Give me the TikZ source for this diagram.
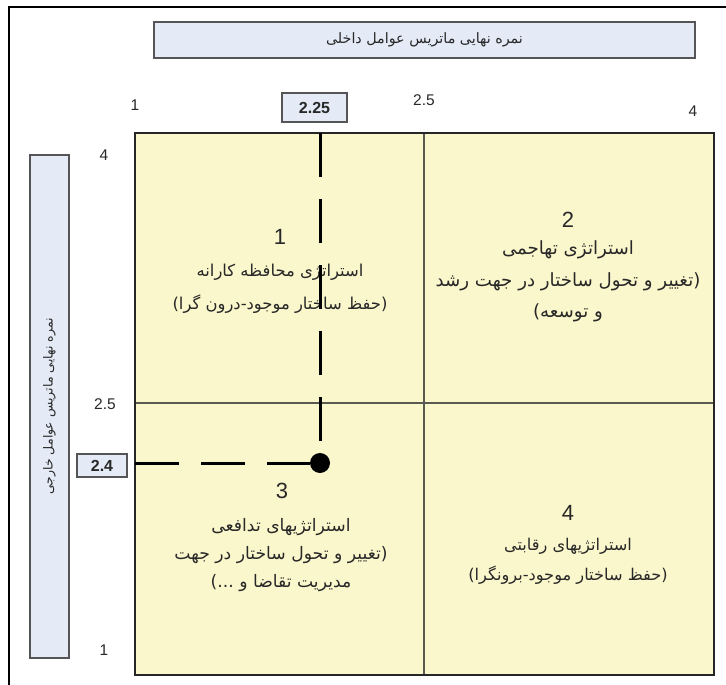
\documentclass[tikz,border=0pt]{standalone}
\usepackage{fontspec}
\setmainfont{Liberation Sans}
\newfontfamily\farsi[Script=Arabic]{DejaVu Sans}
\TeXXeTstate=1
\newcommand{\fa}[1]{{\farsi\beginR #1\endR}}
\definecolor{quadyellow}{RGB}{251,247,204}
\definecolor{boxblue}{RGB}{228,235,246}
\definecolor{boxgray}{RGB}{85,85,85}
\definecolor{gridgray}{RGB}{90,90,80}
\definecolor{textgray}{RGB}{40,40,40}

\begin{document}
\begin{tikzpicture}[x=1pt, y=-1pt, every node/.style={inner sep=0pt, outer sep=0pt, text=textgray},
	quad/.style={rectangle, draw=gridgray, line width=1.2pt, fill=quadyellow, minimum width=#1},
	labelbox/.style={rectangle, draw=boxgray, line width=1.5pt, fill=boxblue},
	scorebox/.style={labelbox, font=\fontsize{16}{16}\selectfont\bfseries},
	axislabel/.style={font=\fontsize{15.5}{16}\selectfont},
	quadnum/.style={font=\fontsize{22}{22}\selectfont},
	quadtext/.style 2 args={align=center, font=\fontsize{#1}{#2}\selectfont},
	scoreline/.style={line width=3pt, dash pattern=on 44pt off 22pt}]
	\fill[white] (0,0) rectangle (726,685);
	\useasboundingbox (0,0) rectangle (726,685);
	\draw[line width=2.5pt] (9,700) -- (9,7) -- (740,7);
	
	\node[labelbox, minimum width=541pt, minimum height=36pt, font=\fontsize{14.3}{14}\selectfont] (inner) at (424.5,40) {\fa{نمره  نهایی ماتریس عوامل داخلی}};
	\node[labelbox, rotate=90, minimum width=503pt, minimum height=39pt, font=\fontsize{12.5}{12}\selectfont] (outer) at (49.5,406.5) {\fa{نمره نهایی ماتریس عوامل خارجی}};
	
	\node[quad=289pt, minimum height=270pt] (q1) at (279.5,268) {};
	\node[quad=290pt, minimum height=270pt] (q2) at (569,268) {};
	\node[quad=289pt, minimum height=272pt] (q3) at (279.5,539) {};
	\node[quad=290pt, minimum height=272pt] (q4) at (569,539) {};
	\draw[line width=1.5pt, draw=black!85] (q1.north west) rectangle (q4.south east);
	
	\node[axislabel] (ie1) at (135,105) {1};
	\node[axislabel] (ie25) at (424,100) {2.5};
	\node[axislabel] (ie4) at (693,111) {4};
	\node[axislabel] (ee4) at (104,155) {4};
	\node[axislabel] (ee25) at (105,404) {2.5};
	\node[axislabel] (ee1) at (104,650) {1};
	
	\node[scorebox, minimum width=65pt, minimum height=29pt] (iescore) at (314.5,107.5) {2.25};
	\node[scorebox, minimum width=50pt, minimum height=23pt] (eescore) at (102,465.5) {2.4};
	
	\node[quadnum] (n1) at (280,237) {1};
	\node[quadnum] (n2) at (568,220) {2};
	\node[quadnum] (n3) at (282,491) {3};
	\node[quadnum] (n4) at (568,513) {4};
	
	\node[quadtext={16.4}{33}] (t1) at (280,288.5) {\fa{استراتژی محافظه کارانه}\\\fa{(حفظ ساختار موجود-درون گرا)}};
	\node[quadtext={18.2}{31.5}] (t2) at (568,281.5) {\fa{استراتژی تهاجمی}\\\fa{(تغییر و تحول ساختار در جهت رشد}\\\fa{و توسعه)}};
	\node[quadtext={17.2}{28}] (t3) at (281,555.5) {\fa{استراتژیهای تدافعی}\\\fa{(تغییر و تحول ساختار در جهت}\\\fa{مدیریت تقاضا و ...)}};
	\node[quadtext={16.2}{30}] (t4) at (568,561) {\fa{استراتژیهای رقابتی}\\\fa{(حفظ ساختار موجود-برونگرا)}};
	
	\coordinate (ietop) at (320,133);
	\coordinate (eeleft) at (135,463);
	\node[circle, fill=black, minimum size=20pt] (dot) at (320,463) {};
	\draw[scoreline] (ietop) -- (dot);
	\draw[scoreline] (eeleft) -- (dot);
\end{tikzpicture}
\end{document}
